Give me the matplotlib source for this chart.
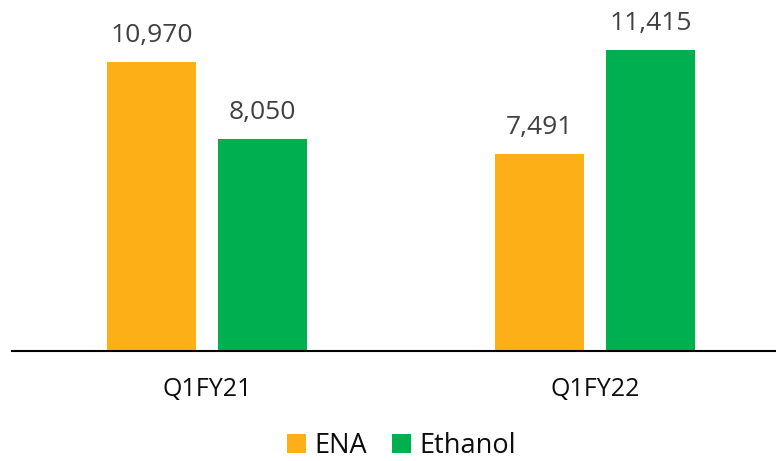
import numpy as np
import matplotlib
matplotlib.use("Agg")
import matplotlib.pyplot as plt
from matplotlib.patches import Patch

# data
categories = ["Q1FY21", "Q1FY22"]
ena = [10970, 7491]
ethanol = [8050, 11415]
series_names = ["ENA", "Ethanol"]
colors = ["#FCAF17", "#00B050"]

plt.rcParams["font.family"] = ["Open Sans", "DejaVu Sans"]

fig = plt.figure(figsize=(7.76, 4.61), dpi=100)
W, H = 776, 461
ax = fig.add_axes([12 / W, 110 / H, (W - 12) / W, 351 / H])

x = np.arange(len(categories))
width = 0.227
offset = 0.143

b1 = ax.bar(x - offset, ena, width, color=colors[0])
b2 = ax.bar(x + offset, ethanol, width, color=colors[1])

# value labels above bars
for bars in (b1, b2):
    for rect in bars:
        h = rect.get_height()
        ax.annotate(f"{h:,.0f}", xy=(rect.get_x() + rect.get_width() / 2, h),
                    xytext=(0, 14.4), textcoords="offset points",
                    ha="center", va="baseline", fontsize=19, color="#404040")

# category labels
for i, cat in enumerate(categories):
    ax.annotate(cat, xy=(i, 0), xytext=(0, -32.4), textcoords="offset points",
                ha="center", va="baseline", fontsize=18, color="#0d0d0d",
                annotation_clip=False)

ax.set_xlim(-0.5026, 1.4665)
ax.set_ylim(0, 13325)
ax.set_xticks([])
ax.set_yticks([])
for s in ["top", "left", "right"]:
    ax.spines[s].set_visible(False)
ax.spines["bottom"].set_linewidth(1.5)
ax.spines["bottom"].set_color("black")

handles = [Patch(facecolor=c, edgecolor="none") for c in colors]
fig.legend(handles, series_names, loc="center", ncol=2,
           bbox_to_anchor=(401.5 / W, 1 - 446 / H), frameon=False,
           fontsize=19.5, handlelength=0.72, handleheight=0.72,
           handletextpad=0.32, columnspacing=0.9, borderpad=0,
           labelcolor="#0d0d0d")

fig.savefig("out.png", dpi=100)
